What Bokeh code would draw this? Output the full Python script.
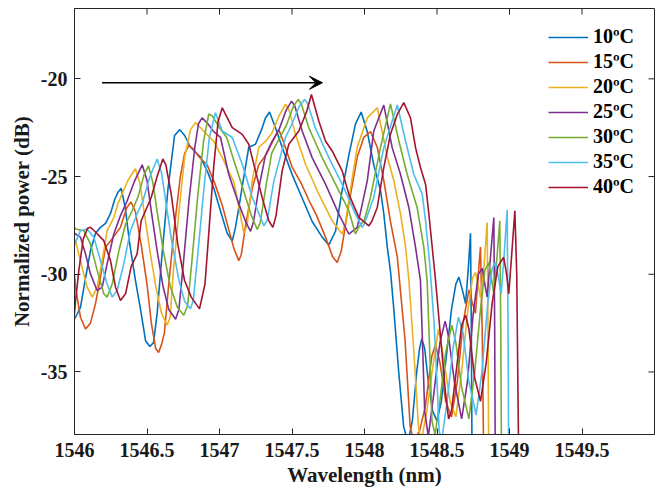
from bokeh.plotting import figure
from bokeh.models import Range1d, FixedTicker, Legend, LegendItem, Arrow, VeeHead
from bokeh.embed import file_html
from bokeh.resources import INLINE

# ---------------- data ----------------
series_names = ["10ºC", "15ºC", "20ºC", "25ºC", "30ºC", "35ºC", "40ºC"]
series_colors = ["#0072BD", "#D95319", "#EDB120", "#7E2F8E", "#77AC30", "#4DBEEE", "#A2142F"]

x10 = [1546.000, 1546.007, 1546.041, 1546.076, 1546.110, 1546.145, 1546.179, 1546.214, 1546.248, 1546.276,
       1546.300, 1546.322, 1546.350, 1546.380, 1546.420, 1546.460, 1546.490, 1546.520, 1546.545, 1546.570,
       1546.600, 1546.645, 1546.690, 1546.726, 1546.760, 1546.800, 1546.869, 1546.920, 1546.961, 1547.000,
       1547.053, 1547.088, 1547.110, 1547.133, 1547.170, 1547.202, 1547.248, 1547.290, 1547.317, 1547.345,
       1547.386, 1547.432, 1547.501, 1547.570, 1547.639, 1547.708, 1547.754, 1547.800, 1547.846, 1547.892,
       1547.938, 1547.977, 1548.019, 1548.064, 1548.110, 1548.133, 1548.157, 1548.180, 1548.200, 1548.236,
       1548.270, 1548.300, 1548.330, 1548.360, 1548.380, 1548.395, 1548.415, 1548.440, 1548.470, 1548.500,
       1548.530, 1548.560, 1548.600, 1548.630, 1548.651, 1548.675, 1548.697, 1548.715, 1548.731, 1548.737,
       1548.742]
y10 = [-32.3, -32.2, -31.7, -30.2, -28.8, -27.9, -27.6, -27.4, -26.9, -26.2,
       -25.8, -25.6, -26.6, -28.4, -30.3, -32.0, -33.4, -33.7, -33.5, -32.0,
       -29.3, -25.6, -22.9, -22.6, -22.9, -23.5, -24.0, -24.8, -25.6, -26.6,
       -27.9, -28.3, -27.6, -26.6, -24.9, -23.5, -23.35, -22.6, -22.0, -21.7,
       -22.5, -23.5, -24.9, -26.1, -27.3, -28.1, -28.5, -27.8, -25.7, -23.9,
       -22.3, -21.7, -22.7, -24.4, -25.7, -26.9, -28.6, -29.9, -31.6, -35.0,
       -37.8, -38.6, -37.5, -35.0, -33.8, -33.3, -33.8, -35.5, -37.0, -37.5,
       -36.5, -34.5, -31.8, -30.5, -30.15, -30.8, -31.5, -29.8, -27.9, -33.0,
       -40.0]

x15 = [1546.000, 1546.007, 1546.041, 1546.076, 1546.110, 1546.145, 1546.179, 1546.214, 1546.248, 1546.317,
       1546.360, 1546.390, 1546.420, 1546.460, 1546.500, 1546.530, 1546.560, 1546.580, 1546.600, 1546.620,
       1546.650, 1546.690, 1546.730, 1546.760, 1546.790, 1546.820, 1546.860, 1546.915, 1546.970, 1547.020,
       1547.060, 1547.100, 1547.133, 1547.150, 1547.180, 1547.226, 1547.271, 1547.320, 1547.360, 1547.409,
       1547.440, 1547.500, 1547.560, 1547.616, 1547.670, 1547.731, 1547.780, 1547.812, 1547.840, 1547.892,
       1547.950, 1547.995, 1548.041, 1548.088, 1548.133, 1548.179, 1548.226, 1548.280, 1548.315, 1548.340,
       1548.380, 1548.419, 1548.464, 1548.490, 1548.520, 1548.560, 1548.600, 1548.640, 1548.680, 1548.720,
       1548.745, 1548.765, 1548.785, 1548.800, 1548.812, 1548.823]
y15 = [-30.0, -30.66, -32.2, -32.8, -32.5, -31.5, -30.15, -28.6, -28.3, -27.6,
       -26.6, -26.3, -26.8, -28.5, -30.5, -32.5, -33.8, -34.0, -33.6, -33.0,
       -30.5, -27.5, -25.0, -23.8, -23.4, -23.6, -24.0, -24.4, -25.4, -26.5,
       -27.6, -28.7, -29.3, -29.0, -27.5, -25.6, -24.4, -23.9, -23.3, -22.6,
       -23.2, -24.5, -25.3, -26.2, -27.0, -28.1, -29.1, -29.4, -28.8, -26.4,
       -24.0, -23.0, -22.7, -23.5, -25.2, -27.3, -29.1, -33.4, -37.8, -38.6,
       -38.0, -36.8, -34.2, -33.6, -34.5, -36.5, -37.3, -35.5, -32.5, -30.8,
       -31.5, -32.0, -30.0, -28.6, -33.0, -40.0]

x20 = [1546.000, 1546.007, 1546.041, 1546.087, 1546.122, 1546.156, 1546.191, 1546.225, 1546.271, 1546.299,
       1546.368, 1546.420, 1546.450, 1546.480, 1546.520, 1546.560, 1546.600, 1546.639, 1546.660, 1546.680,
       1546.720, 1546.760, 1546.800, 1546.834, 1546.870, 1546.920, 1546.961, 1547.030, 1547.100, 1547.140,
       1547.168, 1547.190, 1547.226, 1547.271, 1547.317, 1547.360, 1547.410, 1547.455, 1547.480, 1547.524,
       1547.593, 1547.685, 1547.777, 1547.846, 1547.870, 1547.900, 1547.950, 1548.019, 1548.088, 1548.157,
       1548.202, 1548.248, 1548.283, 1548.306, 1548.340, 1548.372, 1548.390, 1548.430, 1548.464, 1548.510,
       1548.550, 1548.590, 1548.630, 1548.670, 1548.710, 1548.745, 1548.766, 1548.785, 1548.800, 1548.825,
       1548.846, 1548.852, 1548.857]
y20 = [-28.2, -28.3, -29.3, -30.66, -31.17, -30.66, -29.3, -27.77, -27.1, -26.4,
       -25.2, -24.6, -25.3, -26.8, -28.8, -30.6, -32.0, -32.6, -32.2, -30.0,
       -26.8, -24.0, -22.6, -22.24, -22.5, -22.9, -23.2, -24.2, -25.3, -26.8,
       -27.9, -27.5, -25.2, -23.5, -23.2, -22.8, -21.9, -21.3, -21.6, -22.84,
       -24.37, -25.9, -27.26, -27.94, -27.3, -25.8, -23.5, -22.0, -21.48, -24.0,
       -25.2, -26.9, -28.6, -30.3, -33.9, -37.8, -38.6, -37.0, -35.1, -32.8,
       -34.5, -36.5, -37.3, -35.0, -32.0, -30.2, -29.9, -30.6, -31.2, -29.5,
       -27.35, -33.0, -40.0]

x25 = [1546.000, 1546.007, 1546.041, 1546.076, 1546.110, 1546.156, 1546.191, 1546.225, 1546.271, 1546.317,
       1546.360, 1546.410, 1546.467, 1546.500, 1546.530, 1546.570, 1546.610, 1546.650, 1546.697, 1546.720,
       1546.750, 1546.790, 1546.830, 1546.855, 1546.880, 1546.920, 1546.960, 1547.007, 1547.064, 1547.133,
       1547.180, 1547.214, 1547.235, 1547.271, 1547.317, 1547.363, 1547.410, 1547.460, 1547.497, 1547.520,
       1547.570, 1547.639, 1547.731, 1547.823, 1547.892, 1547.950, 1548.019, 1548.064, 1548.133, 1548.191,
       1548.248, 1548.306, 1548.352, 1548.386, 1548.400, 1548.415, 1548.440, 1548.480, 1548.520, 1548.556,
       1548.580, 1548.620, 1548.670, 1548.710, 1548.750, 1548.785, 1548.812, 1548.830, 1548.846, 1548.870,
       1548.892, 1548.898, 1548.902]
y25 = [-27.9, -27.94, -28.1, -28.96, -29.98, -30.83, -30.66, -29.47, -27.94, -27.0,
       -26.3, -25.3, -24.4, -25.2, -26.8, -28.8, -30.6, -31.8, -32.3, -31.8,
       -29.5, -26.2, -23.5, -22.3, -22.0, -22.3, -22.7, -23.0, -24.9, -26.4,
       -27.3, -27.8, -27.3, -25.6, -23.9, -23.2, -22.6, -21.6, -21.14, -21.4,
       -22.67, -24.03, -25.39, -26.92, -27.94, -27.6, -25.22, -22.67, -21.34, -23.52,
       -24.88, -26.58, -28.62, -30.32, -33.5, -37.0, -38.3, -36.0, -33.5, -32.4,
       -33.2, -35.5, -37.4, -35.5, -32.0, -30.0, -29.7, -30.5, -31.17, -29.0,
       -27.1, -33.0, -40.0]

x30 = [1546.000, 1546.007, 1546.064, 1546.110, 1546.156, 1546.202, 1546.225, 1546.260, 1546.306, 1546.352,
       1546.398, 1546.440, 1546.480, 1546.510, 1546.540, 1546.570, 1546.610, 1546.660, 1546.710, 1546.754,
       1546.780, 1546.810, 1546.850, 1546.890, 1546.926, 1546.950, 1547.000, 1547.050, 1547.100, 1547.170,
       1547.220, 1547.260, 1547.280, 1547.320, 1547.360, 1547.409, 1547.460, 1547.510, 1547.543, 1547.565,
       1547.616, 1547.708, 1547.800, 1547.892, 1547.938, 1547.960, 1548.000, 1548.041, 1548.110, 1548.179,
       1548.237, 1548.294, 1548.363, 1548.409, 1548.432, 1548.450, 1548.465, 1548.487, 1548.520, 1548.560,
       1548.602, 1548.630, 1548.670, 1548.720, 1548.760, 1548.800, 1548.830, 1548.857, 1548.875, 1548.892,
       1548.915, 1548.933, 1548.940, 1548.945]
y30 = [-27.6, -27.68, -27.77, -28.45, -29.8, -31.0, -31.17, -30.5, -28.8, -27.43,
       -26.75, -26.0, -24.9, -24.45, -25.3, -26.8, -28.7, -30.6, -31.7, -32.1,
       -31.6, -29.3, -26.0, -23.2, -21.8, -21.9, -22.5, -23.0, -24.2, -25.8,
       -27.0, -27.7, -27.4, -25.5, -23.8, -23.1, -22.4, -21.4, -21.05, -21.3,
       -22.5, -24.03, -25.39, -26.75, -27.94, -27.6, -27.2, -26.07, -23.52, -21.28,
       -23.18, -24.88, -26.58, -28.62, -30.32, -34.0, -37.5, -38.2, -36.5, -34.0,
       -32.6, -33.5, -35.8, -37.4, -35.0, -31.8, -29.8, -29.4, -30.2, -31.0,
       -29.0, -27.27, -33.0, -40.0]

x35 = [1546.000, 1546.007, 1546.041, 1546.087, 1546.133, 1546.179, 1546.225, 1546.260, 1546.294, 1546.340,
       1546.386, 1546.432, 1546.470, 1546.520, 1546.570, 1546.600, 1546.630, 1546.670, 1546.720, 1546.760,
       1546.800, 1546.820, 1546.850, 1546.890, 1546.930, 1546.972, 1547.019, 1547.088, 1547.157, 1547.226,
       1547.306, 1547.330, 1547.375, 1547.455, 1547.500, 1547.550, 1547.588, 1547.610, 1547.660, 1547.754,
       1547.846, 1547.938, 1547.984, 1548.000, 1548.064, 1548.133, 1548.226, 1548.283, 1548.340, 1548.398,
       1548.421, 1548.450, 1548.480, 1548.500, 1548.515, 1548.530, 1548.570, 1548.610, 1548.648, 1548.680,
       1548.720, 1548.770, 1548.810, 1548.850, 1548.880, 1548.903, 1548.925, 1548.943, 1548.965, 1548.984,
       1548.990, 1548.995]
y35 = [-28.5, -28.37, -27.77, -27.68, -28.1, -29.3, -30.5, -31.17, -30.83, -29.47,
       -27.77, -26.9, -26.3, -25.0, -24.1, -24.8, -26.3, -28.3, -30.3, -31.4,
       -31.77, -31.3, -29.0, -25.8, -23.0, -21.73, -22.67, -23.0, -24.37, -26.07,
       -27.52, -27.2, -25.22, -23.0, -22.3, -21.4, -21.05, -21.3, -22.5, -24.03,
       -25.39, -26.92, -27.6, -27.4, -26.07, -23.52, -21.34, -23.18, -24.88, -25.9,
       -27.26, -29.5, -32.5, -35.5, -38.0, -38.6, -36.5, -33.8, -32.2, -33.0,
       -35.5, -37.2, -35.0, -31.5, -29.7, -29.4, -30.2, -31.0, -28.8, -26.7,
       -33.0, -40.0]

x40 = [1546.000, 1546.005, 1546.030, 1546.060, 1546.090, 1546.110, 1546.140, 1546.202, 1546.248, 1546.283,
       1546.317, 1546.352, 1546.391, 1546.432, 1546.460, 1546.529, 1546.570, 1546.609, 1546.630, 1546.667,
       1546.712, 1546.759, 1546.805, 1546.862, 1546.900, 1546.930, 1546.960, 1546.990, 1547.019, 1547.088,
       1547.157, 1547.202, 1547.248, 1547.294, 1547.340, 1547.368, 1547.390, 1547.432, 1547.478, 1547.547,
       1547.600, 1547.634, 1547.685, 1547.731, 1547.777, 1547.846, 1547.892, 1547.961, 1548.030, 1548.050,
       1548.088, 1548.133, 1548.179, 1548.226, 1548.271, 1548.317, 1548.352, 1548.386, 1548.421, 1548.444,
       1548.467, 1548.490, 1548.559, 1548.580, 1548.600, 1548.640, 1548.670, 1548.697, 1548.720, 1548.760,
       1548.800, 1548.840, 1548.880, 1548.920, 1548.960, 1548.980, 1548.995, 1549.015, 1549.037, 1549.050,
       1549.064]
y40 = [-32.0, -31.5, -29.8, -28.2, -27.65, -27.6, -27.8, -28.28, -29.3, -30.66,
       -31.34, -31.0, -29.6, -28.96, -27.26, -26.07, -25.0, -24.1, -24.4, -25.9,
       -28.45, -30.32, -31.17, -31.77, -30.5, -27.5, -24.5, -22.2, -21.48, -22.5,
       -22.84, -23.35, -24.71, -26.07, -27.26, -27.6, -27.0, -24.71, -23.35, -22.67,
       -21.7, -20.8, -22.16, -23.18, -23.69, -24.71, -25.9, -27.09, -27.52, -27.3,
       -26.58, -24.54, -22.84, -21.82, -21.22, -21.99, -23.52, -24.54, -25.39, -26.92,
       -28.62, -30.32, -36.1, -37.4, -37.0, -34.5, -32.6, -32.1, -32.8, -35.3,
       -36.5, -34.5, -31.5, -29.6, -29.13, -30.0, -31.0, -29.0, -26.75, -30.0,
       -40.0]

x_ticks = [1546, 1546.5, 1547, 1547.5, 1548, 1548.5, 1549, 1549.5]
x_tick_labels = ["1546", "1546.5", "1547", "1547.5", "1548", "1548.5", "1549", "1549.5"]
y_ticks = [-35, -30, -25, -20]
y_tick_labels = ["-35", "-30", "-25", "-20"]
x_limits = (1546, 1550)
y_limits = (-38.2, -16.4)

arrow_x_start, arrow_x_end, arrow_y = 1546.19, 1547.71, -20.2

# ---------------- figure ----------------
FONT = "Liberation Serif"
AX = "#262626"

p = figure(width=661, height=491, output_backend="svg", toolbar_location=None,
           x_range=Range1d(*x_limits), y_range=Range1d(*y_limits),
           min_border_left=74, min_border_right=7, min_border_top=8, min_border_bottom=57)
p.xgrid.visible = False
p.ygrid.visible = False
p.outline_line_color = AX
p.outline_line_width = 1
p.background_fill_color = "white"
p.border_fill_color = "white"

xs_all = [x10, x15, x20, x25, x30, x35, x40]
ys_all = [y10, y15, y20, y25, y30, y35, y40]
renderers = []
for xs, ys, c in zip(xs_all, ys_all, series_colors):
    r = p.line(xs, ys, line_color=c, line_width=1.6)
    renderers.append(r)

# axes
p.xaxis.ticker = FixedTicker(ticks=x_ticks)
p.xaxis.major_label_overrides = dict(zip(x_ticks, x_tick_labels))
p.yaxis.ticker = FixedTicker(ticks=y_ticks)
p.yaxis.major_label_overrides = dict(zip(y_ticks, y_tick_labels))
p.xaxis.axis_label = "Wavelength (nm)"
p.yaxis.axis_label = "Normalized power (dB)"
for ax in (p.xaxis[0], p.yaxis[0]):
    ax.major_tick_in = 6
    ax.major_tick_out = 0
    ax.minor_tick_line_color = None
    ax.axis_line_color = AX
    ax.major_tick_line_color = AX
    ax.major_label_text_font = FONT
    ax.major_label_text_font_style = "bold"
    ax.major_label_text_font_size = "20px"
    ax.major_label_text_color = "#1a1a1a"
    ax.axis_label_text_font = FONT
    ax.axis_label_text_font_style = "bold"
    ax.axis_label_text_font_size = "21px"
    ax.axis_label_text_color = "#1a1a1a"
p.xaxis.major_label_standoff = 8
p.xaxis.axis_label_standoff = 3
p.yaxis.major_label_standoff = 7
p.yaxis.axis_label_standoff = 4

# inward tick marks on the top and right edges of the box (from the tick lists)
p.ray(x=x_ticks, y=[y_limits[1]] * len(x_ticks), length=6, length_units="screen",
      angle=-90, angle_units="deg", line_color=AX, line_width=1)
p.ray(x=[x_limits[1]] * len(y_ticks), y=y_ticks, length=6, length_units="screen",
      angle=180, angle_units="deg", line_color=AX, line_width=1)

# arrow
p.add_layout(Arrow(end=VeeHead(size=13, line_color="black", fill_color="black", line_width=1),
                   x_start=arrow_x_start, y_start=arrow_y, x_end=arrow_x_end, y_end=arrow_y,
                   line_color="black", line_width=1.5))

# legend
legend = Legend(items=[LegendItem(label=n, renderers=[r]) for n, r in zip(series_names, renderers)],
                location="top_right", border_line_color=None, background_fill_alpha=0.0,
                label_text_font=FONT, label_text_font_style="bold", label_text_font_size="20px",
                label_text_color="black", glyph_width=40, glyph_height=20, label_height=20,
                label_width=44, spacing=2, label_standoff=5, padding=0, margin=17)
p.add_layout(legend)

open("out.html", "w").write(file_html(p, INLINE))
